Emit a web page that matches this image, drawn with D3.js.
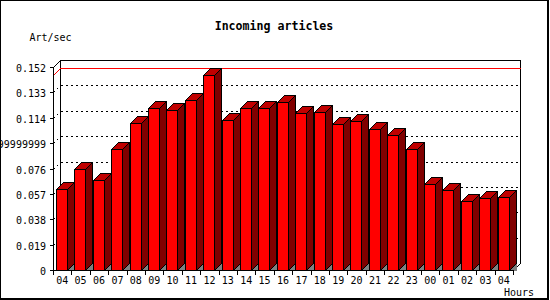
<!DOCTYPE html>
<html><head><meta charset="utf-8">
<script src="https://cdn.jsdelivr.net/npm/d3@7"></script>
<style>
html,body{margin:0;padding:0;background:#fff;overflow:hidden}
svg{display:block}
text{font-family:"DejaVu Sans Mono","Liberation Mono",monospace;fill:#000}
</style></head><body>
<svg id="c" width="550" height="300"></svg>
<script>
// ---- data ----
const hours = ["04","05","06","07","08","09","10","11","12","13","14","15","16","17","18","19","20","21","22","23","00","01","02","03","04"];
const rate  = [0.0604,0.0754,0.0672,0.0904,0.1098,0.1211,0.1196,0.1271,0.1458,0.1121,0.1211,0.1211,0.1256,0.1173,0.1181,0.1091,0.1113,0.1053,0.1009,0.0904,0.0642,0.0597,0.0517,0.0537,0.0544];
const yTickValues = [0,0.019,0.038,0.057,0.076,0.095,0.114,0.133,0.152];
const yTickLabels = ["0","0.019","0.038","0.057","0.076","0.09499999999","0.114","0.133","0.152"];
const chartTitle = "Incoming articles";
const yTitle = "Art/sec";
const xTitle = "Hours";

// ---- layout ----
const pLeft = 53, pRight = 513, pBottom = 270, pTop = 67, depth = 7;
const svg = d3.select("#c").attr("shape-rendering","crispEdges");

const x = d3.scaleBand().domain(d3.range(hours.length)).range([pLeft, pRight]);
const y = d3.scaleLinear().domain([0, yTickValues[yTickValues.length-1]]).range([pBottom, pTop]);

// frame
svg.append("path").attr("d","M0.5,299 V0.5 H548").attr("fill","none").attr("stroke","#000");
svg.append("rect").attr("x",547).attr("y",0).attr("width",2).attr("height",300).attr("fill","#000");
svg.append("rect").attr("x",0).attr("y",298).attr("width",549).attr("height",2).attr("fill","#000");

// titles
svg.append("text").attr("x",274).attr("y",30).attr("text-anchor","middle")
  .attr("font-weight","bold").attr("font-size","11.6px").text(chartTitle);
svg.append("text").attr("x",29.5).attr("y",40.5).attr("font-size","10px").text(yTitle);
svg.append("text").attr("x",504).attr("y",296).attr("font-size","10px").text(xTitle);

// gridlines (dotted), drawn on left side wall and back wall
yTickValues.slice(1, -1).forEach(v => {
  const yy = Math.round(y(v));
  svg.append("path")
    .attr("d", `M${pLeft+0.5},${yy+0.5} L${pLeft+depth+0.5},${yy-depth+0.5} H${pRight+depth+0.5}`)
    .attr("fill","none").attr("stroke","#000").attr("stroke-dasharray","2,3");
});

// back wall outline
svg.append("path")
  .attr("d", `M${pLeft+0.5},${pTop+0.5} L${pLeft+depth+0.5},${pTop-depth+0.5} H${pRight+depth+0.5} V${pBottom-depth+0.5} L${pRight+0.5},${pBottom+0.5}`)
  .attr("fill","none").attr("stroke","#000");
svg.append("path")
  .attr("d", `M${pLeft+depth+0.5},${pTop-depth+0.5} V${pBottom-depth+0.5}`)
  .attr("fill","none").attr("stroke","#000");

// max line (red)
const ym = Math.round(y(d3.max(rate)));
svg.append("path")
  .attr("d", `M${pLeft+0.5},${ym+0.5} L${pLeft+depth+0.5},${ym-depth+0.5} H${pRight+depth+0.5}`)
  .attr("fill","none").attr("stroke","#ff0000");

// bars
const bw = 11;
const g = svg.append("g");
rate.forEach((v, i) => {
  const x0 = Math.round(x(i) + 3) + 0.5;
  const yt = Math.round(y(v)) + 0.5;
  const yb = pBottom + 0.5;
  const x1 = x0 + bw;
  g.append("path").attr("d", `M${x1},${yb} L${x1+depth},${yb-depth} V${yb} Z`).attr("fill","#808080");
  g.append("path").attr("d", `M${x0},${yt} H${x1} V${yb} H${x0} Z`)
    .attr("fill","#ff0000").attr("stroke","#000");
  g.append("path").attr("d", `M${x1},${yt} L${x1+depth},${yt-depth} V${yb-depth} L${x1},${yb} Z`)
    .attr("fill","#800000").attr("stroke","#000");
  g.append("path").attr("d", `M${x0},${yt} L${x0+depth},${yt-depth} H${x1+depth} L${x1},${yt} Z`)
    .attr("fill","#c00000").attr("stroke","#000");
});

// front axes
svg.append("path").attr("d", `M${pLeft+0.5},${pTop+0.5} V${pBottom+0.5} H${pRight+0.5}`)
  .attr("fill","none").attr("stroke","#000");

// y ticks + labels
yTickValues.forEach((v, k) => {
  const yy = Math.round(y(v)) + 0.5;
  svg.append("path").attr("d", `M${pLeft-3},${yy} H${pLeft+0.5}`).attr("stroke","#000");
  svg.append("text").attr("x", 46).attr("y", yy + 4).attr("text-anchor","end")
    .attr("font-size","10px").text(yTickLabels[k]);
});

// x ticks at band boundaries + labels at centers
d3.range(hours.length + 1).forEach(i => {
  const xx = Math.round(i < hours.length ? x(i) : pRight) + 0.5;
  svg.append("path").attr("d", `M${xx},${pBottom+0.5} V${pBottom+5}`).attr("stroke","#000");
});
hours.forEach((h, i) => {
  svg.append("text").attr("x", x(i) + x.bandwidth()/2).attr("y", 284)
    .attr("text-anchor","middle").attr("font-size","10px").text(h);
});
</script>
</body></html>
